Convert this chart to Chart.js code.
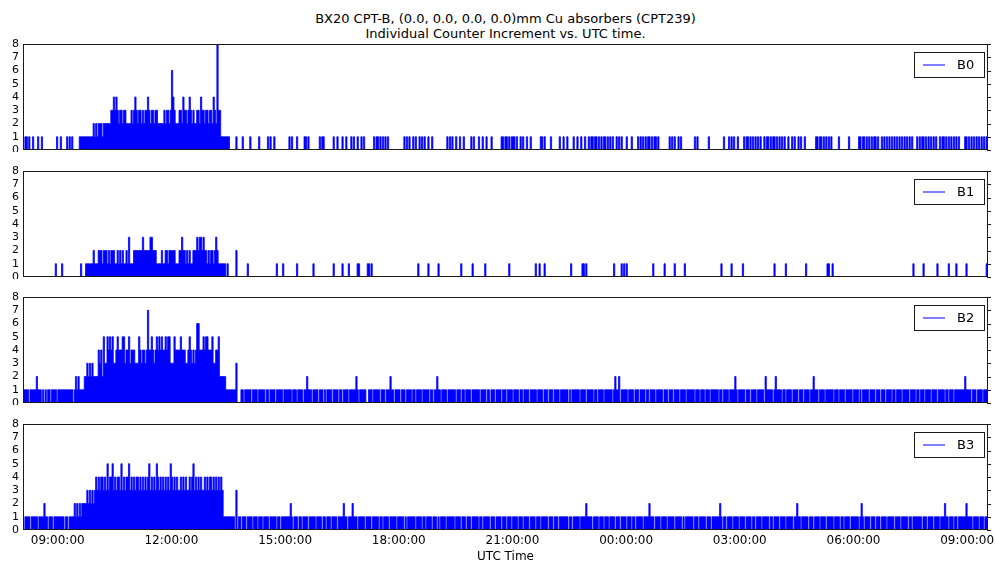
<!DOCTYPE html>
<html>
<head>
<meta charset="utf-8">
<script src="https://cdn.jsdelivr.net/npm/chart.js@4.4.1/dist/chart.umd.min.js"></script>
<style>
  body { margin: 0; background: #fff; width: 995px; height: 564px; position: relative; overflow: hidden; font-family: 'DejaVu Sans', sans-serif; }
  canvas { position: absolute; left: 0; }
  #title { position: absolute; left: 0; width: 1011px; top: 11px; text-align: center; font-size: 13px; line-height: 15px; color: #000; }
</style>
</head>
<body>
<div id="title">BX20 CPT-B, (0.0, 0.0, 0.0, 0.0)mm Cu absorbers (CPT239)<br>Individual Counter Increment vs. UTC time.</div>
<canvas id="c0" width="995" height="115" style="top:37px"></canvas>
<canvas id="c1" width="995" height="115" style="top:164px"></canvas>
<canvas id="c2" width="995" height="115" style="top:290px"></canvas>
<canvas id="c3" width="995" height="147" style="top:417px"></canvas>
<script>
// counts per 2-minute bin, starting 08:04 UTC, one string per hour (30 bins)
var startMinute = 8 * 60 + 4;
var binMinutes = 2;
var xMin = 8 * 60 + 5;          // 08:05
var xMax = 24 * 60 + 9 * 60 + 33; // 09:33 next day
var tickMinutes = [540, 720, 900, 1080, 1260, 1440, 1620, 1800, 1980];

var b0 = [
  '010110100100010010000000000010',
  '010000101010000011111111111212',
  '122212222223343432332332222323',
  '432332323343233233222223233236',
  '432223324332343232233243323323',
  '324328331111111000001000010000',
  '010000001000000101001000000000',
  '001010001000001101000000001011',
  '000000010010001001000101001001',
  '010000000101101010101000000000',
  '000101010010100101010010010000',
  '000000010101001001001000001010',
  '001001001000100000001101101011',
  '101001010010010000000110100001',
  '000000100100100001001001001001',
  '011011010101101010100101010001',
  '000100001010101011010110100000',
  '000101010010100000000001010000',
  '000010000000000010001010100100',
  '001011010101010100101101011010',
  '101010010010100101001000000001',
  '101101010101000001000000010000',
  '000110110101010110100101010101',
  '010101010101010100010101101010',
  '101010010110101010101010000110',
  '101010101010101'
];
var b1 = [
  '000000000000000000000000000100',
  '001000000000000001000111111211',
  '122212221212221121212112131112',
  '222222322222332221111211221222',
  '221112232212121122232332322121',
  '221232111111010000002000000001',
  '000000000000000000000010000100',
  '000000001000000000000100000000',
  '000000010000001000010000001100',
  '000011010000000000000000000000',
  '000000000000001000000010000000',
  '100000000000000000100000000100',
  '000000010000000000000000001000',
  '000000000000000001001000100000',
  '000000000000000100000000110100',
  '000000000000000000010000010101',
  '000000000000000000001000000001',
  '000000010000000100000000000000',
  '000000000000001000000010000000',
  '010000000000000000000000001000',
  '000001000000000000000100000000',
  '000000001100100000000000000000',
  '000000000000000000000000000000',
  '000000000000000010000000100000',
  '000001000000001000001000000010',
  '000000000000001'
];
var b2 = [
  '111111011111211101010110111101',
  '111111111110121211112232323222',
  '243425335454533454445534453444',
  '333543443474454345454544545533',
  '354444544433454343466444545544',
  '453344522222111111113000110111',
  '110111101111101101111011111011',
  '111101110111101121110111101110',
  '101111011110110111101111121011',
  '111001110111110111011121101111',
  '011101111011011110111110110112',
  '110111101111110111011011110111',
  '111011110110111011110111011110',
  '111101101111011111011110111011',
  '101111011111101011111101111011',
  '111011011110111111012112011111',
  '011110111011110110111101111101',
  '110111011110111101111110111011',
  '101110111111011011110111121011',
  '111011101111011111021111101211',
  '110110111101111011101111011211',
  '101111011111101110111101111101',
  '111010111110111101110111011110',
  '110111101111101111011011101111',
  '011110111110110111011111111211',
  '110111011110111'
];
var b3 = [
  '110111101111101111211011101111',
  '111101101111212121222232323234',
  '343443435344534344353434453434',
  '344343434345343435434343434354',
  '343433434343343453434343343434',
  '434343434311111111103011011101',
  '111011101110111101111101101111',
  '111210111011011110111110111101',
  '101110111101111211011121110111',
  '110111101111101101111011111011',
  '111010111111011110110111101110',
  '101111011111101111011101110111',
  '110110111110111011110111011101',
  '111011101111011110111011111011',
  '101110111111101101111101111211',
  '110111101110111011110111011110',
  '111011011111011112111011110111',
  '101111101111101011111101110111',
  '110111011111121011011110111101',
  '111011110110111101111101101111',
  '011110111110112110111110111011',
  '110111101111101111011011110111',
  '111012101111011101110111101111',
  '101111011111011011111110111011',
  '110111101112110111011011111121',
  '111011110111011'
];

var framePlugin = {
  id: 'frame',
  afterDatasetsDraw: function(chart) {
    var ctx = chart.ctx, a = chart.chartArea, y = chart.scales.y;
    ctx.save();
    ctx.strokeStyle = '#1a1a1a';
    ctx.lineWidth = 1;
    ctx.strokeRect(Math.round(a.left) + 0.5, Math.round(a.top) + 0.5, Math.round(a.width) - 1, Math.round(a.height) - 1);
    // small tick marks on the right spine
    ctx.beginPath();
    y.ticks.forEach(function(t) {
      var py = Math.round(y.getPixelForValue(t.value)) + 0.5;
      ctx.moveTo(a.right - 1, py);
      ctx.lineTo(a.right + 3, py);
    });
    ctx.stroke();
    // legend box, top right inside the axes
    var ds = chart.data.datasets[0];
    var bw = 70, bh = 25, bx = Math.round(a.right) - 4 - bw, by = Math.round(a.top) + 8;
    ctx.fillStyle = '#fff';
    ctx.fillRect(bx, by, bw, bh);
    ctx.strokeRect(bx + 0.5, by + 0.5, bw, bh);
    ctx.strokeStyle = ds.borderColor;
    ctx.beginPath();
    ctx.moveTo(bx + 9, by + bh / 2 + 0.5);
    ctx.lineTo(bx + 31, by + bh / 2 + 0.5);
    ctx.stroke();
    ctx.fillStyle = '#000';
    ctx.font = '13px "DejaVu Sans"';
    ctx.textBaseline = 'middle';
    ctx.fillText(ds.label, bx + 43, by + bh / 2 + 1);
    ctx.restore();
  }
};

function hhmmss(v) {
  var h = Math.floor(v / 60) % 24;
  return (h < 10 ? '0' : '') + h + ':00:00';
}

function makeChart(id, label, rows, showX) {
  var values = rows.join('').split('').map(Number);
  var points = values.map(function(v, i) { return { x: startMinute + i * binMinutes, y: v }; });
  return new Chart(document.getElementById(id), {
    type: 'line',
    data: {
      datasets: [{
        label: label,
        data: points,
        stepped: 'after',
        borderColor: '#0000ff',
        backgroundColor: '#0000ff',
        borderWidth: 0.8,
        fill: 'origin',
        pointRadius: 0
      }]
    },
    options: {
      responsive: false,
      animation: false,
      devicePixelRatio: 1,
      layout: { padding: { top: 7, right: 7, bottom: showX ? 0 : 2, left: 0 } },
      plugins: { legend: { display: false }, tooltip: { enabled: false } },
      scales: {
        x: {
          type: 'linear',
          min: xMin,
          max: xMax,
          display: showX,
          grid: { display: false, drawTicks: false, tickLength: 0 },
          border: { display: false },
          afterBuildTicks: function(s) { s.ticks = tickMinutes.map(function(v) { return { value: v }; }); },
          afterFit: function(s) {
            if (!showX) return;
            s.height = 34;
            s.paddingLeft = 0;
            s.paddingRight = 0;
          },
          ticks: {
            autoSkip: false,
            maxRotation: 0,
            padding: 4,
            color: '#000',
            font: { family: 'DejaVu Sans', size: 12 },
            callback: function(v) { return hhmmss(v); }
          },
          title: {
            display: true,
            text: 'UTC Time',
            color: '#000',
            font: { family: 'DejaVu Sans', size: 12 },
            padding: { top: 0, bottom: 0 }
          }
        },
        y: {
          min: 0,
          max: 8,
          grid: { display: false, drawTicks: false, tickLength: 0 },
          border: { display: false },
          afterFit: function(s) {
            s.width = 23;
            s.paddingTop = 0;
            s.paddingBottom = 0;
          },
          ticks: {
            stepSize: 1,
            autoSkip: false,
            padding: 4,
            color: '#000',
            font: { family: 'DejaVu Sans', size: 11 }
          }
        }
      }
    },
    plugins: [framePlugin]
  });
}

makeChart('c0', 'B0', b0, false);
makeChart('c1', 'B1', b1, false);
makeChart('c2', 'B2', b2, false);
makeChart('c3', 'B3', b3, true);
</script>
</body>
</html>
